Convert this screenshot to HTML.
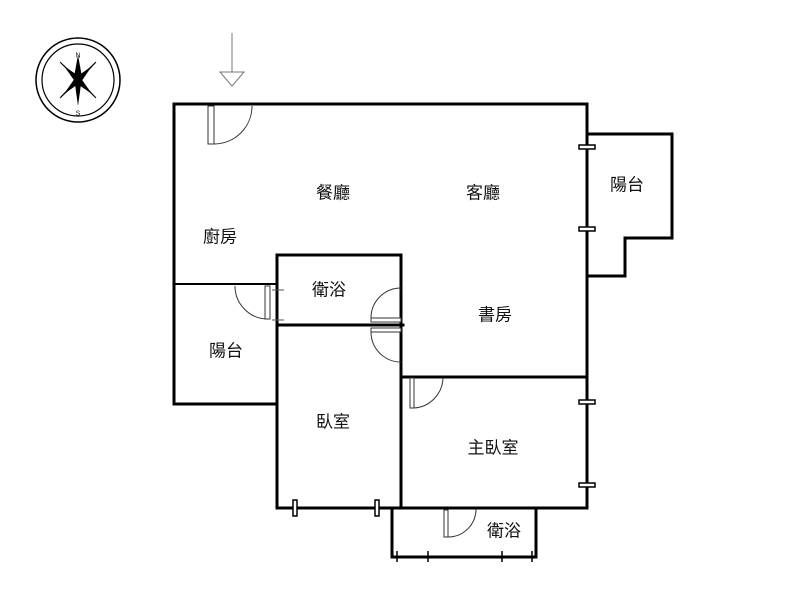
<!DOCTYPE html>
<html><head><meta charset="utf-8"><style>
html,body{margin:0;padding:0;background:#fff;}
svg{display:block}
text{font-family:"Liberation Sans","Noto Sans CJK TC",sans-serif;font-size:17px;fill:#111;text-anchor:middle;dominant-baseline:central}
</style></head><body>
<svg width="800" height="600" viewBox="0 0 800 600" xmlns="http://www.w3.org/2000/svg">
<g fill="none" stroke="#000">
<circle cx="78" cy="80" r="42" stroke-width="1.5"/>
<circle cx="78" cy="80" r="36" stroke-width="1.2"/>
</g>
<polygon points="78,55 82,77 78,106 74,77" fill="#000"/>
<polygon points="96,62 80,79 60,98 76,81" fill="none" stroke="#000" stroke-width="1"/>
<polygon points="60,62 79,80 96,98 77,79" fill="none" stroke="#000" stroke-width="1"/>
<polygon points="64,66 80,77 92,94 76,83" fill="#000"/>
<polygon points="92,66 81,82 64,94 75,78" fill="#000"/>
<text x="78" y="56" style="font-size:7px">N</text>
<text x="78" y="114" style="font-size:7px">S</text>
<line x1="232" y1="33" x2="232" y2="72" stroke="#777" stroke-width="1"/>
<polygon points="220,72 244,72 232,86" fill="none" stroke="#777" stroke-width="1"/>

<g fill="none" stroke="#000" stroke-width="3" stroke-linecap="square">
<polyline points="587,104 174,104 174,404 277,404"/>
<line x1="587" y1="104" x2="587" y2="508"/>
<polyline points="587,134 672,134 672,238 625,238 625,276 587,276"/>
<polyline points="277,508 277,255 401,255 401,508"/>
<line x1="277" y1="325" x2="403" y2="325"/>
<line x1="401" y1="377" x2="587" y2="377"/>
<line x1="277" y1="508" x2="587" y2="508"/>
<polyline points="392,508 392,557 536,557 536,508"/>
</g>
<line x1="174" y1="284" x2="277" y2="284" stroke="#000" stroke-width="2"/>
<g stroke="#000" stroke-width="1.5">
<line x1="397" y1="551" x2="397" y2="562"/><line x1="428" y1="551" x2="428" y2="562"/>
<line x1="502" y1="551" x2="502" y2="562"/><line x1="532" y1="551" x2="532" y2="562"/>
<line x1="392" y1="508" x2="392" y2="530"/>
<line x1="272" y1="290" x2="284" y2="290" stroke-width="1" stroke="#555"/>
<line x1="272" y1="320" x2="284" y2="320" stroke-width="1" stroke="#555"/>
</g>
<g fill="#fff" stroke="#000" stroke-width="1.5">
<rect x="579" y="145" width="16" height="4"/><rect x="579" y="227" width="16" height="4"/>
<rect x="579" y="400" width="16" height="4"/><rect x="579" y="483" width="16" height="4"/>
<rect x="293" y="500" width="4" height="16"/><rect x="375" y="500" width="4" height="16"/>
</g>
<g fill="#fff" stroke="#333" stroke-width="1">
<rect x="208" y="106" width="6" height="38"/>
<path d="M214,144 A38,38 0 0 0 252,106" fill="none"/>
<rect x="265" y="286" width="5" height="33"/>
<path d="M235,286 A33,33 0 0 0 268,319" fill="none"/>
<rect x="371" y="318" width="30" height="4"/>
<path d="M371,318 A30,30 0 0 1 401,288" fill="none"/>
<rect x="371" y="328" width="30" height="4"/>
<path d="M371,332 A30,30 0 0 0 401,362" fill="none"/>
<rect x="410" y="378" width="4" height="30"/>
<path d="M414,408 A31,31 0 0 0 443,378" fill="none"/>
<rect x="444" y="510" width="4" height="27"/>
<path d="M448,537 A28,28 0 0 0 476,509" fill="none"/>
</g>
<text x="333" y="193">餐廳</text>
<text x="483" y="193">客廳</text>
<text x="220" y="237">廚房</text>
<text x="329" y="290">衛浴</text>
<text x="495" y="315">書房</text>
<text x="226" y="351">陽台</text>
<text x="627" y="185">陽台</text>
<text x="333" y="422">臥室</text>
<text x="493" y="448">主臥室</text>
<text x="504" y="531">衛浴</text>
</svg>
</body></html>
